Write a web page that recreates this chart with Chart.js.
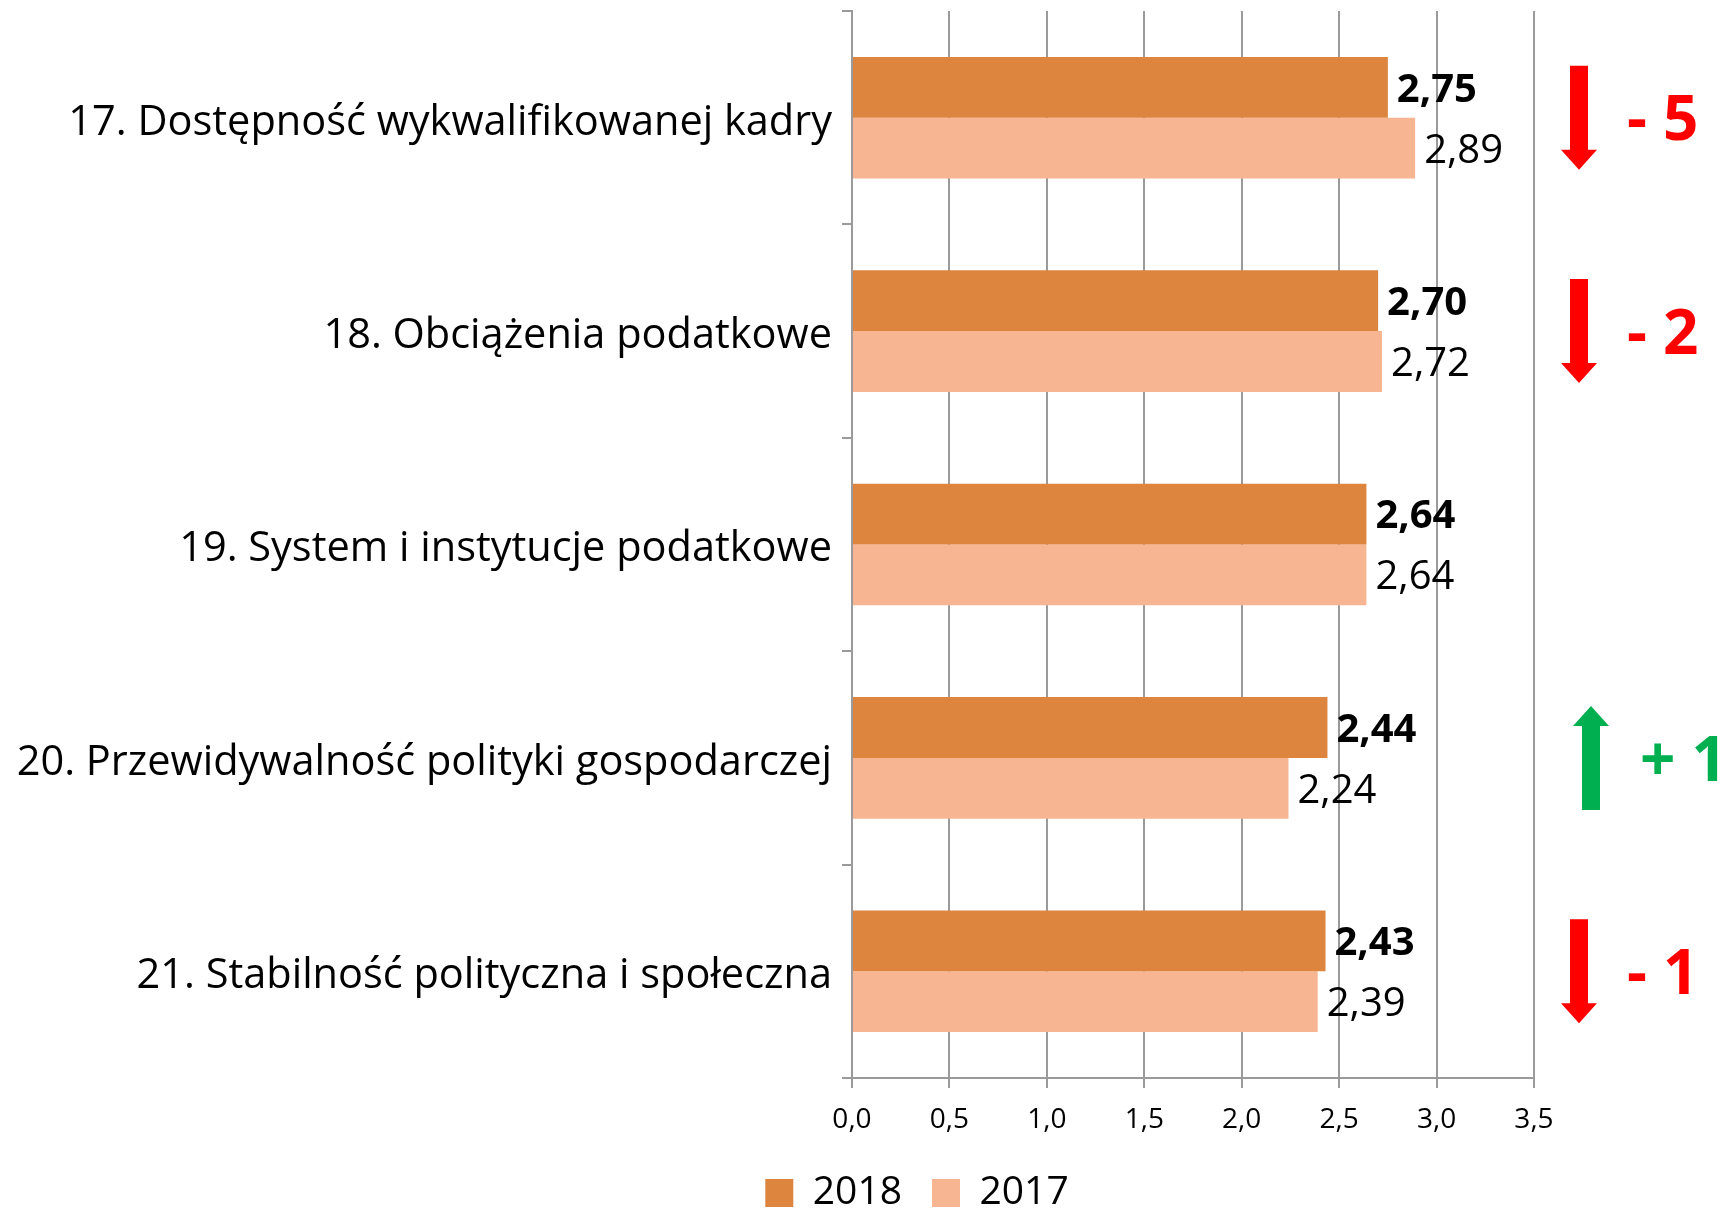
<!DOCTYPE html>
<html>
<head>
<meta charset="utf-8">
<script src="https://cdn.jsdelivr.net/npm/chart.js@4.4.1/dist/chart.umd.min.js"></script>
<style>
  html, body { margin: 0; padding: 0; background: #fff; }
  #wrap { width: 1736px; height: 1211px; }
</style>
</head>
<body>
<div id="wrap"><canvas id="chart" width="1736" height="1211"></canvas></div>
<script>
const categories = [
    '17. Dostępność wykwalifikowanej kadry',
    '18. Obciążenia podatkowe',
    '19. System i instytucje podatkowe',
    '20. Przewidywalność polityki gospodarczej',
    '21. Stabilność polityczna i społeczna',
];
const values2018 = [2.75, 2.70, 2.64, 2.44, 2.43];
const values2017 = [2.89, 2.72, 2.64, 2.24, 2.39];
const rankChange = [-5, -2, 0, 1, -1];
const xTicks = [0, 0.5, 1, 1.5, 2, 2.5, 3, 3.5];

const FONT = "'Open Sans', 'DejaVu Sans', sans-serif";
const GRID = '#9a9a9a';
const LEGEND_PAD = 30;
const LEGEND_FONT = 39;

function formatComma(value, digits) {
    return value.toFixed(digits).replace('.', ',');
}

// etykiety z wartościami na końcu słupków
const valueLabels = {
    id: 'valueLabels',
    afterDatasetsDraw(chart) {
        const ctx = chart.ctx;
        ctx.save();
        ctx.fillStyle = '#000';
        ctx.textBaseline = 'middle';
        ctx.textAlign = 'left';
        chart.data.datasets.forEach((ds, di) => {
            const meta = chart.getDatasetMeta(di);
            ctx.font = (di === 0 ? 'bold ' : '') + '40px ' + FONT;
            meta.data.forEach((bar, i) => {
                ctx.fillText(formatComma(ds.data[i], 2), bar.x + 9, bar.y + 3);
            });
        });
        ctx.restore();
    },
};

// legenda przesunieta pod wykres (jak w oryginale)
const legendShift = {
    id: 'legendShift',
    afterLayout(chart) {
        const lg = chart.legend;
        const dx = 150;
        const newTop = 1193 - LEGEND_PAD - LEGEND_FONT / 2;
        const h = lg.bottom - lg.top;
        lg.left += dx;
        lg.right += dx;
        lg.top = newTop;
        lg.bottom = newTop + h;
    },
};

// strzałki ze zmianą pozycji w rankingu
const rankArrows = {
    id: 'rankArrows',
    afterDraw(chart) {
        const ctx = chart.ctx;
        const yScale = chart.scales.y;
        const right = chart.chartArea.right;
        ctx.save();
        rankChange.forEach((change, i) => {
            if (change === 0) return;
            const cy = yScale.getPixelForValue(i);
            const up = change > 0;
            const color = up ? '#00b050' : '#ff0000';
            const ax = right + (up ? 57 : 45);
            const half = 52;
            const shaft = 9;
            const head = 18;
            const headLen = 20;
            ctx.fillStyle = color;
            ctx.beginPath();
            if (up) {
                ctx.moveTo(ax - shaft, cy + half);
                ctx.lineTo(ax - shaft, cy - half + headLen);
                ctx.lineTo(ax - head, cy - half + headLen);
                ctx.lineTo(ax, cy - half);
                ctx.lineTo(ax + head, cy - half + headLen);
                ctx.lineTo(ax + shaft, cy - half + headLen);
                ctx.lineTo(ax + shaft, cy + half);
            } else {
                ctx.moveTo(ax - shaft, cy - half);
                ctx.lineTo(ax - shaft, cy + half - headLen);
                ctx.lineTo(ax - head, cy + half - headLen);
                ctx.lineTo(ax, cy + half);
                ctx.lineTo(ax + head, cy + half - headLen);
                ctx.lineTo(ax + shaft, cy + half - headLen);
                ctx.lineTo(ax + shaft, cy - half);
            }
            ctx.closePath();
            ctx.fill();

            ctx.font = 'bold 62px ' + FONT;
            ctx.textBaseline = 'middle';
            ctx.textAlign = 'left';
            const txt = (up ? '+ ' : '- ') + Math.abs(change);
            ctx.fillText(txt, right + (up ? 106 : 93), cy + 5);
        });
        ctx.restore();
    },
};

new Chart(document.getElementById('chart'), {
    type: 'bar',
    data: {
        labels: categories,
        datasets: [
            {
                label: '2018',
                data: values2018,
                backgroundColor: '#dd843f',
                categoryPercentage: 0.57,
                barPercentage: 1.0,
            },
            {
                label: '2017',
                data: values2017,
                backgroundColor: '#f8b592',
                categoryPercentage: 0.57,
                barPercentage: 1.0,
            },
        ],
    },
    options: {
        indexAxis: 'y',
        responsive: false,
        animation: false,
        layout: { padding: { left: 0, right: 202, top: 11, bottom: 0 } },
        plugins: {
            tooltip: { enabled: false },
            legend: {
                position: 'bottom',
                labels: {
                    font: { family: FONT, size: LEGEND_FONT },
                    color: '#000',
                    boxWidth: 28,
                    boxHeight: 28,
                    padding: LEGEND_PAD,
                },
            },
        },
        scales: {
            x: {
                min: 0,
                max: 3.5,
                afterBuildTicks(scale) {
                    scale.ticks = xTicks.map((v) => ({ value: v }));
                },
                afterFit(scale) {
                    scale.height = 54;
                },
                ticks: {
                    color: '#000',
                    font: { family: FONT, size: 28 },
                    padding: 15,
                    callback: (v) => formatComma(v, 1),
                },
                grid: { color: GRID, lineWidth: 2, tickLength: 10 },
                border: { color: GRID, width: 2 },
            },
            y: {
                afterFit(scale) {
                    scale.width = 852;
                    scale.paddingTop = 0;
                    scale.paddingBottom = 0;
                },
                ticks: {
                    color: '#000',
                    font: { family: FONT, size: 41.5 },
                    padding: 10,
                    labelOffset: 5,
                },
                grid: { drawOnChartArea: false, color: GRID, lineWidth: 2, tickLength: 10 },
                border: { color: GRID, width: 2 },
            },
        },
    },
    plugins: [valueLabels, rankArrows, legendShift],
});
</script>
</body>
</html>
